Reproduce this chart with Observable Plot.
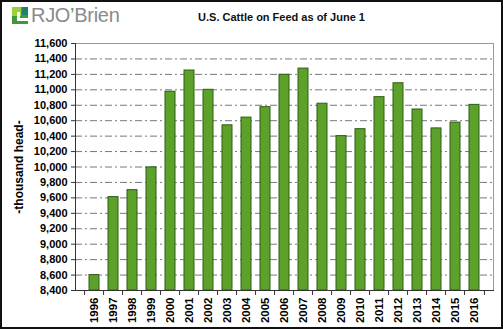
<!DOCTYPE html>
<html><head><meta charset="utf-8">
<script src="https://cdn.jsdelivr.net/npm/d3@7"></script>
<script src="https://cdn.jsdelivr.net/npm/@observablehq/plot@0.6"></script>
<style>
html,body{margin:0;padding:0;background:#fff;}
#wrap{position:relative;width:503px;height:329px;overflow:hidden;font-family:"Liberation Sans",Arial,sans-serif;}
#border{position:absolute;left:0;top:0;width:503px;height:329px;box-sizing:border-box;border:2px solid #111;pointer-events:none;}
#header{position:relative;height:35px;}
#title{position:absolute;left:0;width:563px;top:11px;text-align:center;font-weight:bold;font-size:11px;color:#111;}
#logo{position:absolute;left:12px;top:6px;}
#icon{position:absolute;left:0;top:1px;width:16px;height:17px;background:#3f9a3a;}
#icon1{position:absolute;left:0;top:0;width:9px;height:9px;background:#9bcf3c;}
#icon2{position:absolute;left:5px;top:5px;width:3px;height:9px;background:#fff;}
#icon3{position:absolute;left:5px;top:11px;width:11px;height:3px;background:#fff;}
#icon4{position:absolute;left:10px;top:0;width:6px;height:8px;background:#1f7f70;}
#logotext{position:absolute;left:19px;top:-2px;font-size:20px;color:#8a8a8a;white-space:nowrap;letter-spacing:-0.3px;}
#logotext span{color:#5aa02c;}
</style></head>
<body>
<div id="wrap">
  <div id="header">
    <div id="logo"><div id="icon"><div id="icon1"></div><div id="icon4"></div><div id="icon2"></div><div id="icon3"></div></div>
      <div id="logotext">RJO<span>’</span>Brien</div></div>
    <div id="title">U.S. Cattle on Feed as of June 1</div>
  </div>
  <div id="chart"></div>
  <div id="border"></div>
</div>
<script>
const years = ["1996","1997","1998","1999","2000","2001","2002","2003","2004","2005","2006","2007","2008","2009","2010","2011","2012","2013","2014","2015","2016"];
const values = [8600,9610,9700,9995,10975,11250,11000,10540,10640,10775,11195,11275,10820,10400,10490,10905,11085,10745,10500,10575,10805];
const yTicks = [8400,8600,8800,9000,9200,9400,9600,9800,10000,10200,10400,10600,10800,11000,11200,11400,11600];
const yLabel = "-thousand head-";

const data = years.map((y,i)=>({year:y,value:values[i]}));
const W = 503, H = 294, ML = 75, MR = 10, MT = 8, MB = 39;
const step = (W - ML - MR) / years.length;
const base = yTicks[0];

const chart = Plot.plot({
  width: W, height: H,
  marginLeft: ML, marginRight: MR, marginTop: MT, marginBottom: MB,
  style: {fontFamily: "'Liberation Sans', Arial, sans-serif", fontSize: "11px", color: "#000", background: "transparent"},
  x: {type: "band", domain: years, padding: 0.47, paddingOuter: 0.235, align: 0.5},
  y: {domain: [yTicks[0], yTicks[yTicks.length-1]]},
  marks: [
    Plot.ruleY(yTicks.slice(1, -1), {stroke: "#777", strokeWidth: 1, strokeDasharray: "7,3,2,3"}),
    Plot.frame({stroke: "#999", strokeWidth: 1}),
    Plot.barY(data, {x: "year", y1: () => base, y2: "value", fill: "#5ca12a", stroke: "#2f5c14", strokeWidth: 1}),
    Plot.ruleX(years, {x: d => d, y1: () => base, y2: () => base, dx: -step/2, insetBottom: -5, stroke: "#333"}),
    Plot.ruleX([years[years.length-1]], {x: d => d, y1: () => base, y2: () => base, dx: step/2, insetBottom: -5, stroke: "#333"}),
    Plot.axisY({ticks: yTicks, tickFormat: d3.format(","), tickSize: 4, tickPadding: 4, fontWeight: "bold", stroke: "#333", label: null}),
    Plot.axisY({ticks: [], tickSize: 0, label: yLabel, labelAnchor: "center", labelArrow: "none", labelOffset: 61, fontSize: "12px", fontWeight: "bold"}),
    Plot.axisX({tickRotate: -90, tickSize: 0, tickPadding: 7, fontWeight: "bold", fontSize: "11.5px", label: null}),
    Plot.frame({anchor: "left", stroke: "#333"}),
    Plot.frame({anchor: "bottom", stroke: "#333"})
  ]
});
document.getElementById("chart").appendChild(chart);
</script>
</body></html>
